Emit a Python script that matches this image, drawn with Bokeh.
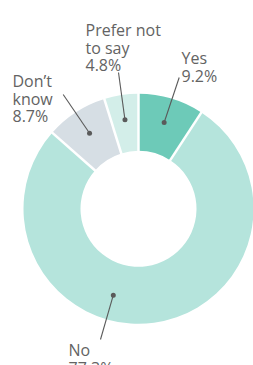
import numpy as np
from bokeh.plotting import figure
from bokeh.models import Range1d, ColumnDataSource
from bokeh.core.properties import value
from bokeh.embed import file_html
from bokeh.resources import INLINE

# ---- data ----
categories = ["Yes", "No", "Don\u2019t know", "Prefer not to say"]
shares = [9.2, 77.3, 8.7, 4.8]
label_lines = [["Yes", "9.2%"], ["No", "77.3%"], ["Don\u2019t", "know", "8.7%"], ["Prefer not", "to say", "4.8%"]]
colors = ["#6dcab8", "#b5e4dc", "#d6dee4", "#d3eee9"]

# ---- layout (pixel-like frame, y downwards negated) ----
CX, CY = 138.0, -208.3
R_IN, R_OUT = 58.0, 115.0
R_DOT = 90.0
dot_angle_offset = [0.0, 24.0, 0.0, 0.0]            # degrees, clockwise
line_end = [(178.7, -77.0), (100.0, -339.0), (62.7, -94.0), (118.0, -72.0)]
text_pos = [(181, -57.5), (68, -349.5), (12, -80.5), (85, -29.5)]
LINE_H = 17.5
TEXT_COLOR = "#636363"

p = figure(width=253, height=365, output_backend="svg", toolbar_location=None,
           x_range=Range1d(0, 253), y_range=Range1d(-365, 0),
           min_border=0, background_fill_color="white")
p.axis.visible = False
p.grid.visible = False
p.outline_line_color = None

fr = np.array(shares) / sum(shares)
cum = np.concatenate([[0], np.cumsum(fr)])
start = np.pi / 2 - 2 * np.pi * cum[:-1]
end = np.pi / 2 - 2 * np.pi * cum[1:]

src = ColumnDataSource(dict(start=start, end=end, color=colors, cat=categories))
p.annular_wedge(x=CX, y=CY, inner_radius=R_IN, outer_radius=R_OUT,
                start_angle="start", end_angle="end", direction="clock",
                fill_color="color", line_color=None, source=src)

# white separators at slice boundaries
b = start
p.segment(x0=CX + (R_IN - 2) * np.cos(b), y0=CY + (R_IN - 2) * np.sin(b),
          x1=CX + (R_OUT + 2) * np.cos(b), y1=CY + (R_OUT + 2) * np.sin(b),
          line_color="white", line_width=2.5)

# leader lines & dots
mid = (start + end) / 2 - np.radians(dot_angle_offset)
dx = CX + R_DOT * np.cos(mid)
dy = CY + R_DOT * np.sin(mid)
p.segment(x0=dx, y0=dy, x1=[e[0] for e in line_end], y1=[e[1] for e in line_end],
          line_color="#5a5a5a", line_width=1.1)
p.scatter(x=dx, y=dy, size=5, fill_color="#5a5a5a", line_color=None)

# labels
tx, ty, tt = [], [], []
for (x0, y0), lines in zip(text_pos, label_lines):
    for i, t in enumerate(lines):
        tx.append(x0)
        ty.append(y0 - i * LINE_H)
        tt.append(t)
p.text(x=tx, y=ty, text=tt, text_font=value("Open Sans"), text_font_size="16px",
       text_color=TEXT_COLOR, text_align="left", text_baseline="alphabetic")

open("out.html", "w").write(file_html(p, INLINE))
